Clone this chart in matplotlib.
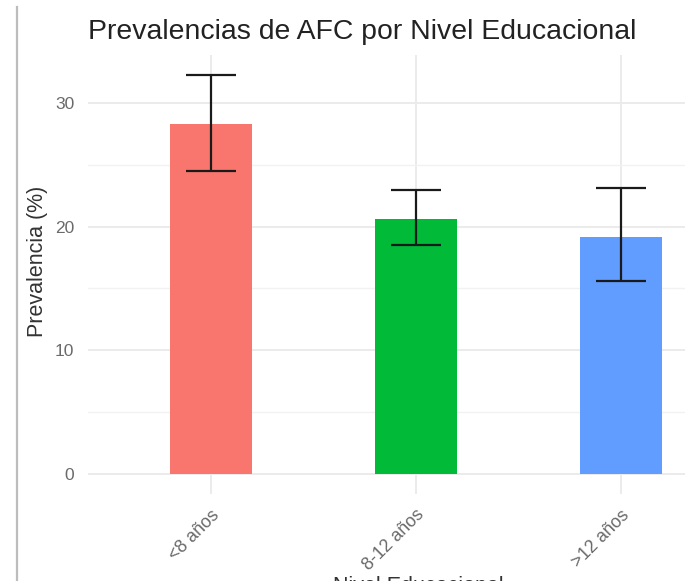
import numpy as np
import matplotlib
matplotlib.use("Agg")
import matplotlib.pyplot as plt
from matplotlib.lines import Line2D

plt.rcParams['font.family'] = ['Liberation Sans', 'DejaVu Sans']

# prevalence by education level, with 95% CI bounds
niveles = ['<8 años', '8-12 años', '>12 años']
prevalencia = [28.3, 20.6, 19.2]
ic_inf = [24.5, 18.5, 15.6]
ic_sup = [32.3, 23.0, 23.1]
colores = ['#F8766D', '#00BA38', '#619CFF']

W, H = 685, 581
fig = plt.figure(figsize=(W / 100, H / 100), dpi=100)

# panel in pixel terms (ggplot-like layout, right side runs off the canvas)
left, right, top, bottom = 88, 744, 54.8, 494
ax = fig.add_axes([left / W, 1 - bottom / H, (right - left) / W, (bottom - top) / H])

x = np.arange(1, len(niveles) + 1)
y = np.array(prevalencia)
yerr = np.vstack([y - np.array(ic_inf), np.array(ic_sup) - y])

ax.bar(x, y, width=0.4, color=colores, zorder=2)
ax.errorbar(x, y, yerr=yerr, fmt='none', ecolor='#1a1a1a', elinewidth=1.6,
            capsize=18, capthick=1.6, zorder=3)

ax.set_xlim(0.4, 3.6)
ax.set_ylim(-1.62, 33.9)
ax.set_yticks([0, 10, 20, 30])
ax.set_yticks([5, 15, 25], minor=True)
ax.set_xticks(x)
ax.set_xticklabels(niveles, rotation=45, ha='right', va='top',
                   rotation_mode='anchor', color='#6a6a6a', fontsize=12.8)
ax.tick_params(axis='y', labelsize=12.5, labelcolor='#6a6a6a', length=0, pad=10)
ax.tick_params(axis='x', length=0, pad=9)
ax.tick_params(which='minor', length=0)

ax.grid(which='major', color='#EBEBEB', linewidth=1.4, zorder=0)
ax.grid(which='minor', axis='y', color='#F2F2F2', linewidth=1.0, zorder=0)
ax.set_axisbelow(True)
for s in ax.spines.values():
    s.set_visible(False)

fig.text(left / W, 1 - 39 / H, 'Prevalencias de AFC por Nivel Educacional',
         fontsize=20.4, color='#222222', ha='left', va='baseline')
fig.text(38 / W, 1 - 261 / H, 'Prevalencia (%)', rotation=90,
         fontsize=15.5, color='#333333', ha='center', va='center')
fig.text(418 / W, 1 - 586 / H, 'Nivel Educacional', fontsize=15.5,
         color='#333333', ha='center', va='center')

# thin frame line on the left edge
fig.add_artist(Line2D([16.5 / W, 16.5 / W], [0, 1 - 7 / H],
                      transform=fig.transFigure, color='#BDBDBD', linewidth=1.6))

fig.savefig('out.png', dpi=100)
